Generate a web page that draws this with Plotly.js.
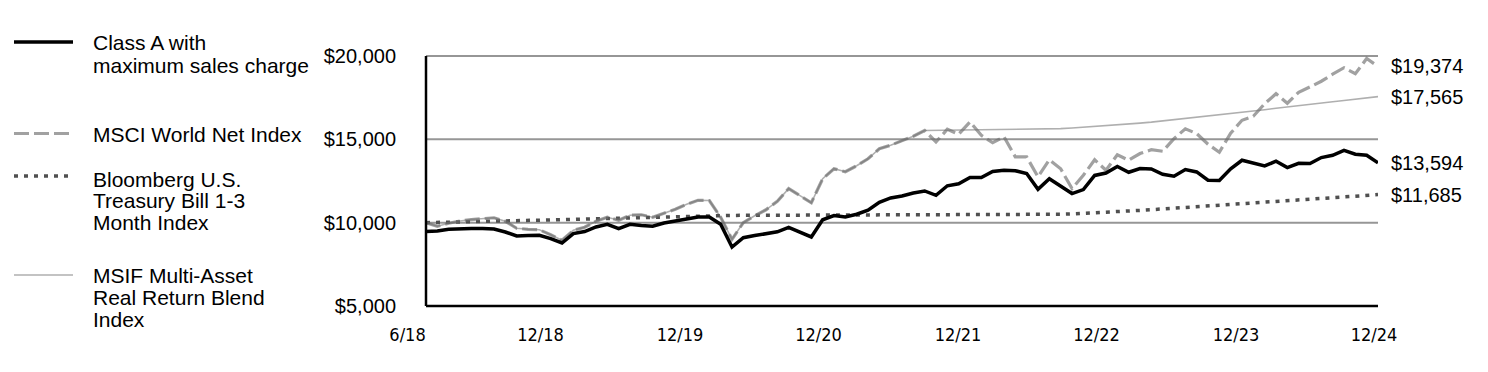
<!DOCTYPE html>
<html>
<head>
<meta charset="utf-8">
<script src="https://cdn.plot.ly/plotly-3.0.1.min.js"></script>
<style>html,body{margin:0;padding:0;background:#fff;}#chart{width:1488px;height:372px;}</style>
</head>
<body>
<div id="chart"></div>
<script>
// Monthly values, month 0 = chart start, month 84 = 12/24
const classA = [9475, 9502, 9603, 9646, 9646, 9646, 9622, 9441, 9201, 9225, 9243, 9045, 8781, 9345, 9470, 9742, 9904, 9646, 9904, 9826, 9784, 9982, 10102, 10186, 10342, 10342, 9904, 8541, 9100, 9225, 9333, 9453, 9723, 9441, 9141, 10174, 10426, 10342, 10504, 10744, 11224, 11482, 11600, 11782, 11902, 11644, 12214, 12334, 12707, 12707, 13073, 13145, 13115, 12947, 12004, 12634, 12220, 11746, 11986, 12833, 12977, 13367, 13025, 13247, 13223, 12905, 12785, 13187, 13043, 12545, 12530, 13235, 13745, 13547, 13403, 13685, 13307, 13565, 13547, 13907, 14045, 14333, 14105, 14045, 13594];
const msciWorld = [10000, 9784, 9964, 10102, 10186, 10234, 10294, 10084, 9664, 9603, 9573, 9273, 8943, 9543, 9723, 10084, 10324, 10144, 10444, 10474, 10324, 10564, 10804, 11104, 11344, 11326, 10324, 9003, 10000, 10414, 10774, 11284, 12044, 11620, 11194, 12634, 13235, 13055, 13415, 13835, 14435, 14645, 14915, 15185, 15527, 14843, 15605, 15305, 16044, 15245, 14795, 15155, 13943, 13943, 12755, 13775, 13235, 12046, 12845, 13775, 13145, 14075, 13745, 14147, 14375, 14285, 15035, 15635, 15347, 14705, 14225, 15365, 16145, 16385, 17136, 17736, 17166, 17826, 18144, 18486, 18906, 19296, 18936, 19849, 19374];
const tBill = [10000, 10011, 10023, 10036, 10050, 10064, 10079, 10095, 10110, 10126, 10143, 10160, 10178, 10196, 10213, 10233, 10252, 10272, 10291, 10310, 10328, 10345, 10361, 10375, 10390, 10404, 10417, 10432, 10440, 10441, 10442, 10443, 10444, 10445, 10446, 10447, 10448, 10448, 10449, 10449, 10450, 10450, 10450, 10451, 10451, 10451, 10452, 10452, 10452, 10453, 10454, 10456, 10460, 10466, 10475, 10486, 10505, 10528, 10555, 10587, 10620, 10660, 10698, 10737, 10779, 10821, 10864, 10908, 10953, 10999, 11045, 11090, 11136, 11181, 11226, 11272, 11318, 11364, 11410, 11455, 11500, 11545, 11590, 11637, 11685];
const blendIndex = [10000, 9784, 9964, 10102, 10186, 10234, 10294, 10084, 9664, 9603, 9573, 9273, 8943, 9543, 9723, 10084, 10324, 10144, 10444, 10474, 10324, 10564, 10804, 11104, 11344, 11326, 10324, 9003, 10000, 10414, 10774, 11284, 12044, 11620, 11194, 12634, 13235, 13055, 13415, 13835, 14435, 14645, 14915, 15185, 15527, 15535, 15543, 15551, 15560, 15567, 15574, 15582, 15590, 15601, 15613, 15626, 15640, 15680, 15722, 15765, 15810, 15863, 15917, 15973, 16030, 16102, 16177, 16253, 16330, 16397, 16465, 16532, 16600, 16687, 16775, 16862, 16950, 17027, 17105, 17182, 17260, 17330, 17400, 17450, 17565];

const seriesNames = ["Class A with maximum sales charge", "MSCI World Net Index", "Bloomberg U.S. Treasury Bill 1-3 Month Index", "MSIF Multi-Asset Real Return Blend Index"];
const legendLines = [["Class A with", "maximum sales charge"], ["MSCI World Net Index"], ["Bloomberg U.S.", "Treasury Bill 1-3", "Month Index"], ["MSIF Multi-Asset", "Real Return Blend", "Index"]];
const xTickLabels = ["6/18", "12/18", "12/19", "12/20", "12/21", "12/22", "12/23", "12/24"];
const xTickPos = [-1.63, 10.1, 22.41, 34.63, 46.94, 59.16, 71.47, 83.65];
const yTickVals = [5000, 10000, 15000, 20000];
const yTickText = ["$5,000", "$10,000", "$15,000", "$20,000"];
const gridVals = [10000, 15000, 20000];

const months = classA.map((_, i) => i);
const lastI = months.length - 1;

// layout geometry
const W = 1488, H = 372;
const ML = 407, MR = 110, MT = 56, MB = 66;
const plotW = W - ML - MR, plotH = H - MT - MB;
const xMax = lastI;
const pxPerMonth = 952 / lastI;
const xMin = -(426 - ML) / pxPerMonth;
const yMin = 5000, yMax = 20000;
const dX = v => (v - xMin) / (xMax - xMin);
const dY = v => (v - yMin) / (yMax - yMin);
const pX = px => (px - ML) / plotW;
const pY = py => (H - MB - py) / plotH;

const FONT = "Liberation Sans, Arial, Helvetica, sans-serif";

const styles = [
  {color: "#000000", width: 3.5, dash: "solid"},
  {color: "rgba(110,110,110,0.65)", width: 3.2, dash: "15px,5px"},
  {color: "#505050", width: 3.5, dash: "4px,6px"},
  {color: "rgba(110,110,110,0.55)", width: 1.6, dash: "solid"}
];
const seriesData = [classA, msciWorld, tBill, blendIndex];

const order = [3, 2, 1, 0];
const traces = order.map(k => ({
  type: "scatter", mode: "lines", name: seriesNames[k],
  x: months, y: seriesData[k],
  line: {color: styles[k].color, width: styles[k].width, dash: styles[k].dash},
  hoverinfo: "skip"
}));

const shapes = [];
gridVals.forEach(g => shapes.push({type: "line", xref: "paper", yref: "paper", x0: dX(0), x1: dX(xMax), y0: dY(g), y1: dY(g), line: {color: "#969696", width: 2}, layer: "below"}));
shapes.push({type: "line", xref: "paper", yref: "paper", x0: dX(0), x1: dX(0), y0: dY(yMin), y1: dY(yMax), line: {color: "#000", width: 2.5}});
shapes.push({type: "line", xref: "paper", yref: "paper", x0: dX(0), x1: dX(xMax), y0: dY(yMin), y1: dY(yMin), line: {color: "#000", width: 2.5}});

// manual legend
const legendSampleY = [42, 133.5, 176, 275];
const legendTextY = [[43, 65], [134.3], [179, 200.8, 222.6], [275.5, 297.5, 319.5]];
const annotations = [];
for (let k = 0; k < 4; k++) {
  shapes.push({type: "line", xref: "paper", yref: "paper", x0: pX(14), x1: pX(73), y0: pY(legendSampleY[k]), y1: pY(legendSampleY[k]),
    line: {color: styles[k].color, width: styles[k].width, dash: styles[k].dash}});
  legendLines[k].forEach((t, j) => annotations.push({xref: "paper", yref: "paper", x: pX(90.5), y: pY(legendTextY[k][j]), xanchor: "left", yanchor: "middle",
    text: t, showarrow: false, font: {family: FONT, size: 21, color: "#000"}}));
}
// end value labels
const fmt = v => "$" + v.toLocaleString("en-US");
seriesData.forEach(s => annotations.push({xref: "x", yref: "y", x: xMax, y: s[lastI], xanchor: "left", yanchor: "middle", xshift: 11,
  text: fmt(s[lastI]), showarrow: false, font: {family: FONT, size: 20, color: "#000"}}));

const layout = {
  width: W, height: H,
  margin: {l: ML, r: MR, t: MT, b: MB, pad: 0},
  paper_bgcolor: "#fff", plot_bgcolor: "#fff",
  showlegend: false,
  xaxis: {range: [xMin, xMax], tickmode: "array", tickvals: xTickPos, ticktext: xTickLabels,
    showgrid: false, zeroline: false, showline: false, ticks: "outside", ticklen: 12, tickcolor: "rgba(0,0,0,0)",
    tickfont: {family: "Liberation Sans Narrow, DejaVu Sans Condensed, Arial Narrow, sans-serif", size: 18, color: "#000"}, fixedrange: true},
  yaxis: {range: [yMin, yMax], tickmode: "array", tickvals: yTickVals, ticktext: yTickText,
    showgrid: false, zeroline: false, showline: false, ticks: "outside", ticklen: 6, tickcolor: "rgba(0,0,0,0)",
    tickfont: {family: FONT, size: 20, color: "#000"}, fixedrange: true},
  shapes: shapes, annotations: annotations
};

Plotly.newPlot("chart", traces, layout, {displayModeBar: false, staticPlot: true});
</script>
</body>
</html>
